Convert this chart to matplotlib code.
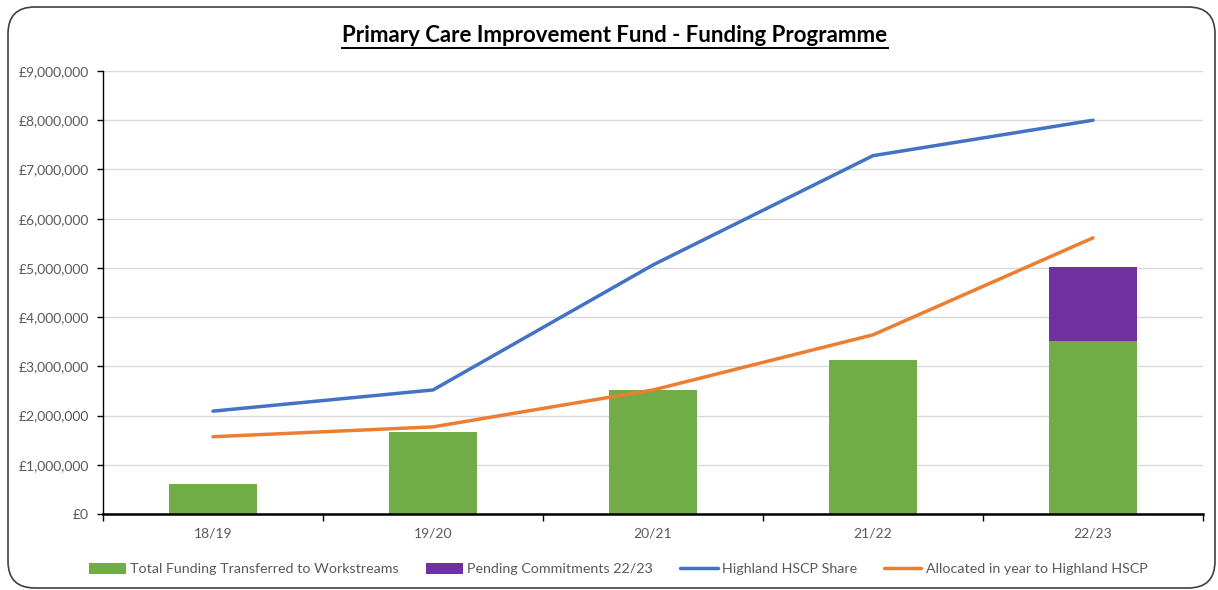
import matplotlib
matplotlib.use("Agg")
import matplotlib.pyplot as plt
from matplotlib.patches import FancyBboxPatch
from matplotlib.ticker import FuncFormatter, MultipleLocator
import numpy as np

categories = ["18/19", "19/20", "20/21", "21/22", "22/23"]
transferred = [600000, 1670000, 2520000, 3120000, 3510000]
pending = [0, 0, 0, 0, 1500000]
hscp_share = [2090000, 2520000, 5060000, 7280000, 8000000]
allocated = [1570000, 1770000, 2520000, 3640000, 5610000]

title = "Primary Care Improvement Fund - Funding Programme"
labels = ["Total Funding Transferred to Workstreams", "Pending Commitments 22/23",
          "Highland HSCP Share", "Allocated in year to Highland HSCP"]

plt.rcParams['font.family'] = ['Lato', 'DejaVu Sans']

W, H = 1218, 590
fig = plt.figure(figsize=(W / 100, H / 100), dpi=100)

# rounded chart border
border = FancyBboxPatch((8 / W, 2 / H), (1215 - 8) / W, (583 - 2) / H,
                        boxstyle="round,pad=0,rounding_size=0.022",
                        transform=fig.transFigure, fill=False,
                        edgecolor="#404040", linewidth=1.2, mutation_aspect=W / H)
fig.patches.append(border)

ax = fig.add_axes([103 / W, 1 - 514 / H, (1203 - 103) / W, (514 - 71) / H])
x = np.arange(len(categories))
c_green, c_purple, c_blue, c_orange = "#70AD47", "#7030A0", "#4472C4", "#ED7D31"

b1 = ax.bar(x, transferred, width=0.4, color=c_green, zorder=2)
pend_vals = np.array(pending, dtype=float)
b2 = ax.bar(x, pend_vals, width=0.4, bottom=transferred, color=c_purple, zorder=2)
l1, = ax.plot(x, hscp_share, color=c_blue, linewidth=2.5, zorder=3, solid_capstyle='round')
l2, = ax.plot(x, allocated, color=c_orange, linewidth=2.5, zorder=3, solid_capstyle='round')

ax.set_xlim(-0.5, len(categories) - 0.5)
ax.set_ylim(0, 9000000)
ax.yaxis.set_major_locator(MultipleLocator(1000000))
ax.yaxis.set_major_formatter(FuncFormatter(lambda v, p: "£{:,.0f}".format(v)))
ax.grid(axis='y', color="#d9d9d9", linewidth=1.0, zorder=0)
ax.set_axisbelow(True)

ax.set_xticks(x)
ax.set_xticklabels(categories)
ax.set_xticks(np.arange(-0.5, len(categories)), minor=True)
ax.tick_params(axis='x', which='major', length=0, pad=10, labelsize=10, labelcolor="#595959")
ax.tick_params(axis='x', which='minor', length=5, width=1, color="black", direction='out')
ax.tick_params(axis='y', length=4, width=1, color="black", labelsize=10,
               labelcolor="#595959", pad=6)

for s in ["top", "right"]:
    ax.spines[s].set_visible(False)
ax.spines["left"].set_color("black")
ax.spines["left"].set_linewidth(1.0)
ax.spines["bottom"].set_color("black")
ax.spines["bottom"].set_linewidth(1.8)

t = fig.text(615 / W, 1 - 36 / H, title, ha='center', va='center',
             fontsize=16, fontweight='bold', color="black")
# underline
fig.canvas.draw()
bb = t.get_window_extent(renderer=fig.canvas.get_renderer())
fig.add_artist(plt.Line2D([bb.x0 / W, bb.x1 / W], [(bb.y0 - 1) / H, (bb.y0 - 1) / H],
                          transform=fig.transFigure, color="black", linewidth=1.4))

leg = fig.legend([b1, b2, l1, l2], labels, loc='center', ncol=4,
                 bbox_to_anchor=(618 / W, 1 - 569 / H), frameon=False,
                 fontsize=10.3, handlelength=2.6, handleheight=0.8,
                 columnspacing=1.9, handletextpad=0.3)
for txt in leg.get_texts():
    txt.set_color("#595959")

fig.savefig("out.png", dpi=100)
